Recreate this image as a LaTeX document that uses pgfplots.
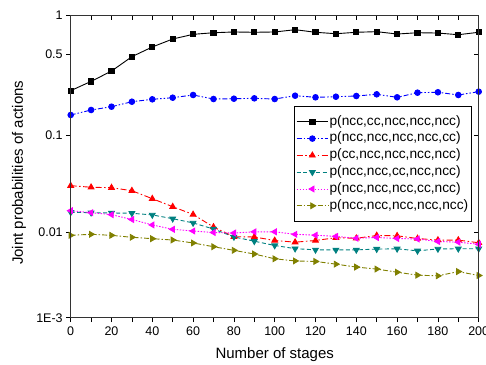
\documentclass[border=0pt]{standalone}
\usepackage{pgfplots}
\pgfplotsset{compat=1.18}
\usepackage{fontspec}
\setmainfont{Liberation Sans}
\definecolor{cblue}{RGB}{0,0,255}
\definecolor{cred}{RGB}{255,0,0}
\definecolor{cteal}{RGB}{0,128,128}
\definecolor{cmag}{RGB}{255,0,255}
\definecolor{colive}{RGB}{128,128,0}
\begin{document}
\begin{tikzpicture}
\pgfplotsset{
  common/.style={
    scale only axis, width=408pt, height=302pt,
    at={(0,0)}, anchor=south west,
    xmin=0, xmax=200, ymin=-302.0, ymax=0,
    xtick={0,20,...,200}, minor x tick num=1,
    ytick={-302.0,-216.804,-119.3,-38.773,0},
    major tick length=4.5pt, minor tick length=4.5pt,
    axis line style={line width=0.9pt, black!80},
    every tick/.style={black, line width=0.8pt},
    every minor tick/.style={black, line width=0.8pt},
    tick label style={font=\fontsize{12.5}{14}\selectfont},
    /pgf/number format/assume math mode=true,
  }
}
\begin{axis}[common, tick align=outside, xtick pos=left, ytick pos=left,
  yticklabels={1E-3,0.01,0.1,0.5,1},
  xticklabel style={yshift=-1pt},
  y filter/.expression={57.922*ln(y)+2.9518*ln(y)*ln(y)+0.12967*ln(y)*ln(y)*ln(y)},
  clip=false,
  xlabel={Number of stages}, ylabel={Joint probabilities of actions},
  every axis x label/.style={at={(axis description cs:0.5,-0.1235)}, anchor=center, font=\fontsize{15}{18}\selectfont},
  every axis y label/.style={at={(axis description cs:-0.1267,0.48)}, rotate=90, anchor=center, font=\fontsize{15}{18}\selectfont},
  legend image code/.code={\draw[mark repeat=2,mark phase=2,#1] plot coordinates {(0pt,0pt) (15.8pt,0pt) (31.6pt,0pt)};},
  legend cell align=left,
  legend style={at={(axis description cs:0.5466,0.701)}, anchor=north west, draw=black, line width=0.8pt,
    font=\fontsize{13.7}{16}\selectfont, inner xsep=2pt, inner ysep=7pt, row sep=0pt,
    nodes={inner xsep=1pt, inner ysep=1pt, text height=10.8pt, text depth=4pt}},
]
\addplot[black, line width=0.9pt, mark=square*, mark size=2.6pt, mark options={solid}] coordinates {
(0,0.250)(10,0.300)(20,0.366)(30,0.480)(40,0.574)(50,0.663)(60,0.721)(70,0.742)(80,0.752)(90,0.748)(100,0.752)(110,0.783)(120,0.748)(130,0.729)(140,0.748)(150,0.756)(160,0.725)(170,0.742)(180,0.738)(190,0.716)(200,0.748)};
\addlegendentry{p(ncc,cc,ncc,ncc,ncc)}
\addplot[cblue, line width=0.9pt, dash pattern=on 5pt off 2pt on 1.5pt off 2pt on 1.5pt off 2pt, mark=*, mark size=2.8pt, mark options={solid, fill=cblue}] coordinates {
(0,0.1527)(10,0.1693)(20,0.1811)(30,0.2004)(40,0.2104)(50,0.2173)(60,0.2294)(70,0.2116)(80,0.2129)(90,0.2146)(100,0.2116)(110,0.2262)(120,0.2190)(130,0.2216)(140,0.2248)(150,0.2326)(160,0.2190)(170,0.2402)(180,0.2422)(190,0.2294)(200,0.2451)};
\addlegendentry{p(ncc,ncc,ncc,ncc,cc)}
\addplot[cred, line width=0.9pt, dash pattern=on 6pt off 2.5pt on 1.5pt off 2.5pt, mark=triangle*, mark size=3.3pt, mark options={solid, fill=cred}] coordinates {
(0,0.0318)(10,0.0306)(20,0.0303)(30,0.0282)(40,0.02326)(50,0.01913)(60,0.01578)(70,0.01151)(80,0.00898)(90,0.00891)(100,0.00814)(110,0.00779)(120,0.00814)(130,0.00875)(140,0.00862)(150,0.00926)(160,0.00919)(170,0.00857)(180,0.00822)(190,0.00822)(200,0.00767)};
\addlegendentry{p(cc,ncc,ncc,ncc,ncc)}
\addplot[cteal, line width=0.9pt, dash pattern=on 4pt off 2.5pt, mark=triangle*, mark size=3.3pt, mark options={solid, fill=cteal, rotate=180}] coordinates {
(0,0.01667)(10,0.01650)(20,0.01638)(30,0.01626)(40,0.01560)(50,0.01420)(60,0.01276)(70,0.01094)(80,0.00893)(90,0.00799)(100,0.00715)(110,0.00658)(120,0.00637)(130,0.00637)(140,0.00637)(150,0.00650)(160,0.00655)(170,0.00621)(180,0.00653)(190,0.00656)(200,0.00656)};
\addlegendentry{p(ncc,ncc,cc,ncc,ncc)}
\addplot[cmag, line width=0.9pt, dash pattern=on 1.5pt off 1.5pt, mark=triangle*, mark size=3.3pt, mark options={solid, fill=cmag, rotate=90}] coordinates {
(0,0.01734)(10,0.01650)(20,0.01571)(30,0.01392)(40,0.01213)(50,0.01085)(60,0.01039)(70,0.01000)(80,0.00987)(90,0.01018)(100,0.01018)(110,0.00955)(120,0.00933)(130,0.00905)(140,0.00862)(150,0.00879)(160,0.00857)(170,0.00846)(180,0.00793)(190,0.00779)(200,0.00738)};
\addlegendentry{p(ncc,ncc,ncc,cc,ncc)}
\addplot[colive, line width=0.9pt, dash pattern=on 5pt off 2pt on 1.5pt off 2pt, mark=triangle*, mark size=3.3pt, mark options={solid, fill=colive, rotate=270}] coordinates {
(0,0.00930)(10,0.00955)(20,0.00930)(30,0.00884)(40,0.00853)(50,0.00824)(60,0.00763)(70,0.00692)(80,0.00629)(90,0.00571)(100,0.00503)(110,0.00475)(120,0.00469)(130,0.00436)(140,0.00403)(150,0.00382)(160,0.00351)(170,0.00324)(180,0.00318)(190,0.00357)(200,0.00321)};
\addlegendentry{p(ncc,ncc,ncc,ncc,ncc)}
\end{axis}
\begin{axis}[common, tick align=inside, xtick pos=right, ytick pos=right,
  xticklabels={}, yticklabels={}]
\end{axis}
\pgfresetboundingbox
\useasboundingbox (-70.7pt,-46.3pt) rectangle (415.3pt,317.7pt);
\end{tikzpicture}
\end{document}
